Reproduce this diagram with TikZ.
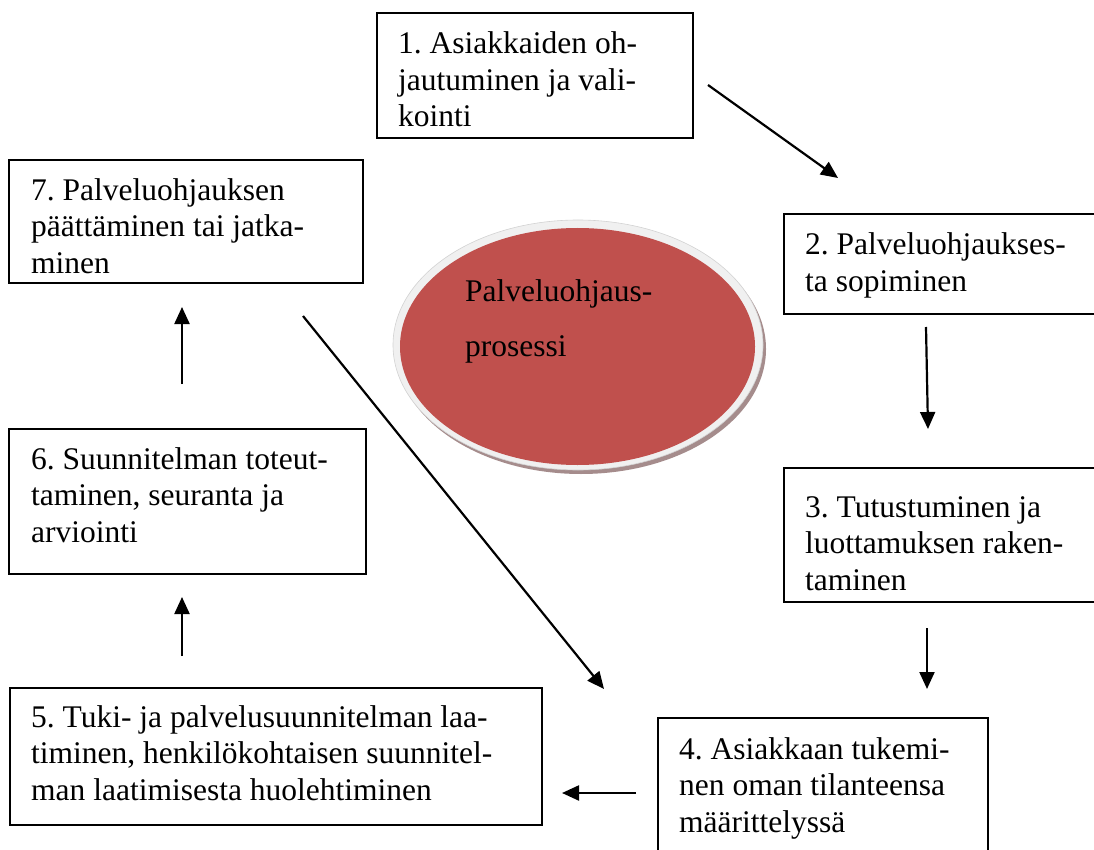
\documentclass[tikz,border=0pt]{standalone}
\usepackage{fontspec}
\setmainfont{Liberation Serif}
\frenchspacing
\usetikzlibrary{arrows.meta}
\definecolor{ovalred}{RGB}{192,80,77}
\definecolor{ovalrim}{RGB}{240,240,240}
\definecolor{ovalshade}{RGB}{165,140,140}
\tikzset{
  stagebox/.style={draw=black, line width=2.2pt, fill=white},
  % anchored at the baseline of the last line
  stagetext/.style={anchor=base west, align=left, inner sep=0pt,
    font=\rmfamily\fontsize{31.5}{36.5}\selectfont},
  flow/.style={line width=2.2pt, -{Triangle[length=17pt,width=15pt]}},
}
\begin{document}
\begin{tikzpicture}[x=1pt, y=-1pt]
  \useasboundingbox (0,0) rectangle (1094,850);
  \clip (0,0) rectangle (1094,850);
  \fill[white] (0,0) rectangle (1094,850);

  % central oval: shadow, light rim, red face
  \fill[ovalshade] (581,349) ellipse [x radius=185, y radius=125];
  \filldraw[fill=ovalrim, draw=gray!35, line width=0.6pt] (578,345) ellipse [x radius=185, y radius=125];
  \fill[ovalred] (577.5,346.5) ellipse [x radius=177.5, y radius=118.5];
  \node[stagetext, font=\rmfamily\fontsize{31.5}{55}\selectfont] (core) at (465,356) {Palveluohjaus-\\prosessi};

  % process stages
  \draw[stagebox] (377,13) rectangle (693,138);
  \node[stagetext] (t1) at (398,127) {1. Asiakkaiden oh-\\jautuminen ja vali-\\kointi};

  \draw[stagebox] (784,214) rectangle (1110,314);
  \node[stagetext] (t2) at (805,291) {2. Palveluohjaukses-\\ta sopiminen};

  \draw[stagebox] (784,468) rectangle (1110,602);
  \node[stagetext] (t3) at (805,590) {3. Tutustuminen ja\\luottamuksen raken-\\taminen};

  \draw[stagebox] (658,718) rectangle (988,870);
  \node[stagetext] (t4) at (679,832) {4. Asiakkaan tukemi-\\nen oman tilanteensa\\määrittelyssä};

  \draw[stagebox] (10,688) rectangle (542,825);
  \node[stagetext] (t5) at (31,800) {5. Tuki- ja palvelusuunnitelman laa-\\timinen, henkilökohtaisen suunnitel-\\man laatimisesta huolehtiminen};

  \draw[stagebox] (9,429) rectangle (366,574);
  \node[stagetext] (t6) at (31,542) {6. Suunnitelman toteut-\\taminen, seuranta ja\\arviointi};

  \draw[stagebox] (9,160) rectangle (363,283);
  \node[stagetext] (t7) at (31,273) {7. Palveluohjauksen\\päättäminen tai jatka-\\minen};

  % arrow end points
  \coordinate (a12s) at (708,85);  \coordinate (a12e) at (838,178);
  \coordinate (a23s) at (926,327); \coordinate (a23e) at (928,429);
  \coordinate (a34s) at (927,628); \coordinate (a34e) at (927,689);
  \coordinate (a45s) at (636,793); \coordinate (a45e) at (562,793);
  \coordinate (a56s) at (182,656); \coordinate (a56e) at (182,597);
  \coordinate (a67s) at (182,384); \coordinate (a67e) at (182,307);
  \coordinate (a74s) at (303,316); \coordinate (a74e) at (604,689);

  \draw[flow] (a12s) -- (a12e);
  \draw[flow] (a23s) -- (a23e);
  \draw[flow] (a34s) -- (a34e);
  \draw[flow] (a45s) -- (a45e);
  \draw[flow] (a56s) -- (a56e);
  \draw[flow] (a67s) -- (a67e);
  \draw[flow] (a74s) -- (a74e);
\end{tikzpicture}
\end{document}
